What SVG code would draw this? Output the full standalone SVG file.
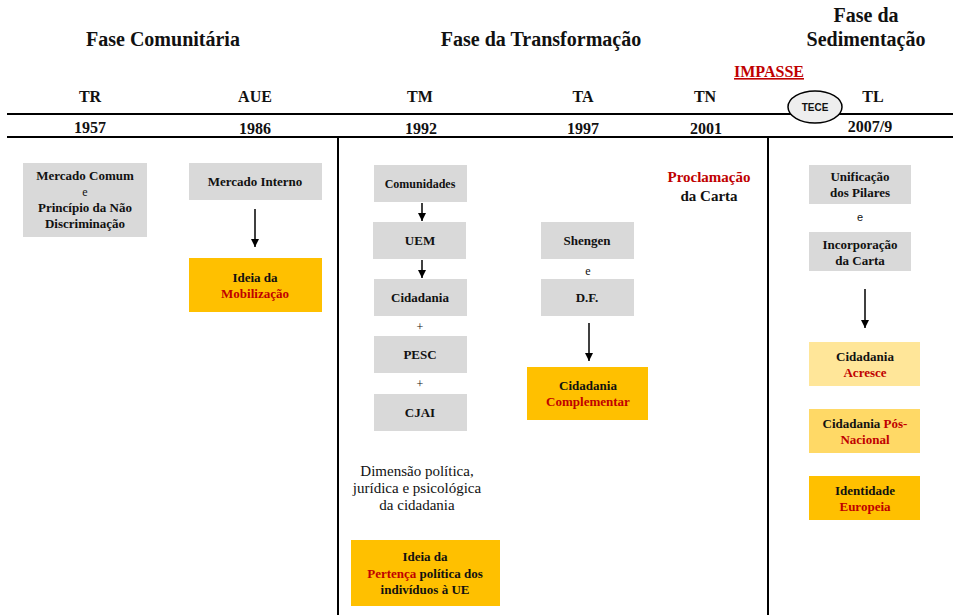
<svg xmlns="http://www.w3.org/2000/svg" width="953" height="615" viewBox="0 0 953 615">
<defs>
<marker id="ah" viewBox="0 0 10 10" refX="10" refY="5" markerWidth="8" markerHeight="8" markerUnits="userSpaceOnUse" orient="auto"><path d="M0,0 L10,5 L0,10 z" fill="#000"/></marker>
<style>
text{font-family:"Liberation Serif","Times New Roman",serif;text-anchor:middle;fill:#111}
.h{font-size:20px;font-weight:bold}
.lb{font-size:16px;font-weight:bold}
.b{font-size:13px;font-weight:bold}
.s{font-size:12px}
.r{fill:#c00000}
.g{fill:#d9d9d9}
.o{fill:#ffc000}
.ln{stroke:#000;stroke-width:2;fill:none}
.ar{stroke:#000;stroke-width:1.5;fill:none;marker-end:url(#ah)}
</style>
</defs>
<rect width="953" height="615" fill="#fff"/>
<g id="headings">
<text class="h" x="163" y="46">Fase Comunitária</text>
<text class="h" x="541" y="46">Fase da Transformação</text>
<text class="h" x="866" y="22">Fase da</text>
<text class="h" x="866" y="46">Sedimentação</text>
<text class="lb r" x="769" y="77" text-decoration="underline">IMPASSE</text>
</g>
<g id="timeline">
<line class="ln" x1="7" y1="114" x2="953" y2="114"/>
<line class="ln" x1="7" y1="137" x2="953" y2="137"/>
<line class="ln" x1="338" y1="137" x2="338" y2="615"/>
<line class="ln" x1="768" y1="137" x2="768" y2="615"/>
<text class="lb" x="90" y="102">TR</text>
<text class="lb" x="255" y="102">AUE</text>
<text class="lb" x="420" y="102">TM</text>
<text class="lb" x="583" y="102">TA</text>
<text class="lb" x="705" y="102">TN</text>
<text class="lb" x="873" y="102">TL</text>
<text class="lb" x="90" y="133">1957</text>
<text class="lb" x="255" y="134">1986</text>
<text class="lb" x="421" y="134">1992</text>
<text class="lb" x="583" y="134">1997</text>
<text class="lb" x="706" y="134">2001</text>
<text class="lb" x="870" y="132">2007/9</text>
</g>
<g id="tece">
<ellipse cx="815" cy="107" rx="27" ry="16" fill="#eeeeee" stroke="#000" stroke-width="1.5"/>
<text x="815" y="111" style="font-family:'Liberation Sans',Arial,sans-serif;font-size:10px;font-weight:bold">TECE</text>
</g>
<g id="mercado-comum">
<rect class="g" x="23" y="163" width="124" height="74"/>
<text class="b" x="85" y="180">Mercado Comum</text>
<text class="s" x="85" y="196">e</text>
<text class="b" x="85" y="212">Princípio da Não</text>
<text class="b" x="85" y="228">Discriminação</text>
</g>
<g id="mercado-interno">
<rect class="g" x="189" y="163" width="133" height="37"/>
<text class="b" x="255" y="186">Mercado Interno</text>
</g>
<g id="mobilizacao">
<rect class="o" x="189" y="258" width="133" height="54"/>
<text class="b" x="255" y="282">Ideia da</text>
<text class="b r" x="255" y="298">Mobilização</text>
</g>
<g id="comunidades">
<rect class="g" x="374" y="165" width="93" height="37"/>
<text class="b" x="420" y="188" style="font-size:12px">Comunidades</text>
</g>
<g id="uem">
<rect class="g" x="373" y="222" width="93" height="37"/>
<text class="b" x="420" y="245">UEM</text>
</g>
<g id="cidadania">
<rect class="g" x="374" y="279" width="93" height="37"/>
<text class="b" x="420" y="302">Cidadania</text>
</g>
<text class="s" x="420" y="331">+</text>
<g id="pesc">
<rect class="g" x="374" y="336" width="93" height="37"/>
<text class="b" x="420" y="359">PESC</text>
</g>
<text class="s" x="420" y="388">+</text>
<g id="cjai">
<rect class="g" x="374" y="394" width="93" height="37"/>
<text class="b" x="420" y="417">CJAI</text>
</g>
<g id="dimensao">
<text x="417" y="476" style="font-size:15px">Dimensão política,</text>
<text x="417" y="493" style="font-size:15px">jurídica e psicológica</text>
<text x="417" y="510" style="font-size:15px">da cidadania</text>
</g>
<g id="pertenca">
<rect class="o" x="351" y="540" width="149" height="66"/>
<text class="b" x="425" y="561">Ideia da</text>
<text class="b" x="425" y="578"><tspan class="r">Pertença</tspan> política dos</text>
<text class="b" x="425" y="594">indivíduos à UE</text>
</g>
<g id="shengen">
<rect class="g" x="541" y="222" width="93" height="37"/>
<text class="b" x="587" y="245">Shengen</text>
</g>
<text class="s" x="588" y="275">e</text>
<g id="df">
<rect class="g" x="541" y="279" width="93" height="37"/>
<text class="b" x="587" y="302">D.F.</text>
</g>
<g id="complementar">
<rect class="o" x="527" y="367" width="121" height="53"/>
<text class="b" x="588" y="390">Cidadania</text>
<text class="b r" x="588" y="406">Complementar</text>
</g>
<g id="proclamacao">
<text class="b r" x="709" y="182" style="font-size:15px">Proclamação</text>
<text class="b" x="709" y="201" style="font-size:15px">da Carta</text>
</g>
<g id="unificacao">
<rect class="g" x="809" y="165" width="102" height="39"/>
<text class="b" x="860" y="181">Unificação</text>
<text class="b" x="860" y="197">dos Pilares</text>
</g>
<text x="860" y="221" style="font-family:'Liberation Sans',Arial,sans-serif;font-size:11px">e</text>
<g id="incorporacao">
<rect class="g" x="809" y="232" width="102" height="39"/>
<text class="b" x="860" y="249">Incorporação</text>
<text class="b" x="860" y="265">da Carta</text>
</g>
<g id="acresce">
<rect x="809" y="342" width="111" height="44" fill="#ffe699"/>
<text class="b" x="865" y="361">Cidadania</text>
<text class="b r" x="865" y="377">Acresce</text>
</g>
<g id="pos-nacional">
<rect x="809" y="409" width="111" height="44" fill="#ffd966"/>
<text class="b" x="865" y="428">Cidadania <tspan class="r">Pós-</tspan></text>
<text class="b r" x="865" y="444">Nacional</text>
</g>
<g id="identidade">
<rect class="o" x="809" y="476" width="111" height="44"/>
<text class="b" x="865" y="495">Identidade</text>
<text class="b r" x="865" y="511">Europeia</text>
</g>
<g id="connectors">
<line class="ar" x1="255" y1="209" x2="255" y2="247"/>
<line class="ar" x1="422" y1="203" x2="422" y2="221"/>
<line class="ar" x1="422" y1="260" x2="422" y2="278"/>
<line class="ar" x1="589" y1="323" x2="589" y2="361"/>
<line class="ar" x1="865" y1="289" x2="865" y2="328"/>
</g>
</svg>
